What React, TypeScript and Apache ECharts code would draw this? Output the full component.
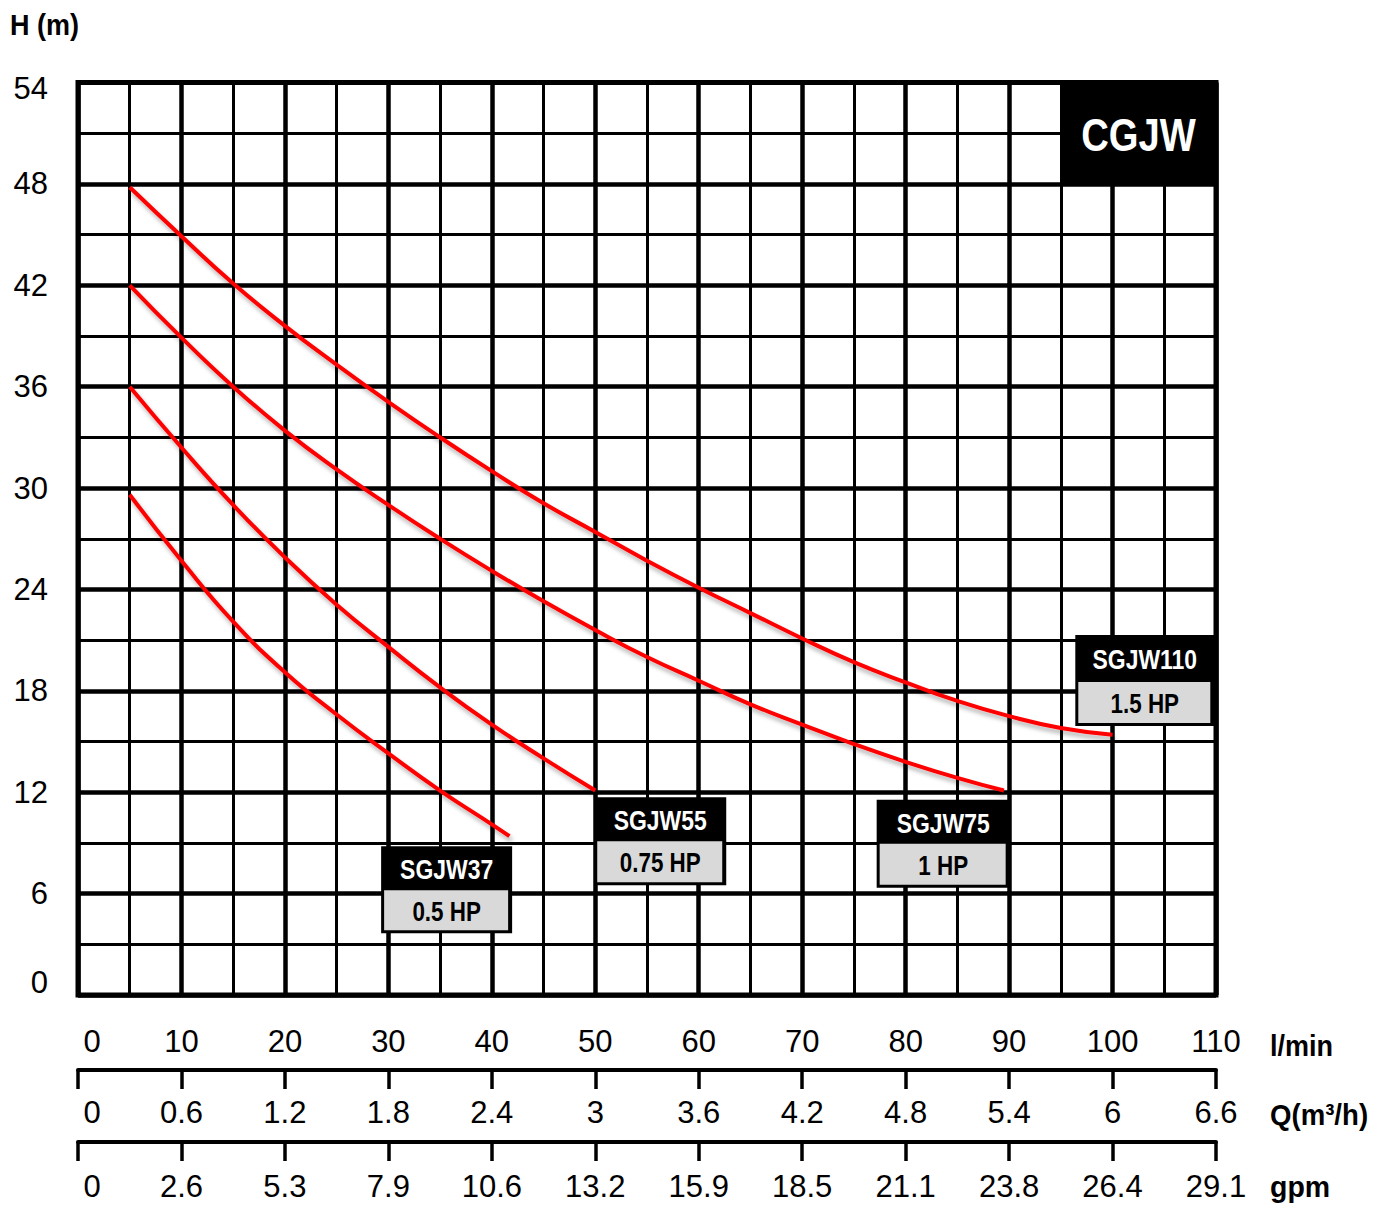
import React, { useEffect, useRef } from "react";
import * as echarts from "echarts";

// ---------- data ----------
const lpmTickLabels = ["0", "10", "20", "30", "40", "50", "60", "70", "80", "90", "100", "110"];
const m3hTickLabels = ["0", "0.6", "1.2", "1.8", "2.4", "3", "3.6", "4.2", "4.8", "5.4", "6", "6.6"];
const gpmTickLabels = ["0", "2.6", "5.3", "7.9", "10.6", "13.2", "15.9", "18.5", "21.1", "23.8", "26.4", "29.1"];

const modelNames = ["SGJW37", "SGJW55", "SGJW75", "SGJW110"];
const modelPowers = ["0.5 HP", "0.75 HP", "1 HP", "1.5 HP"];

const flowSGJW37 = [5, 10, 15, 20, 25, 30, 35, 40, 41.7];
const headSGJW37 = [29.6, 25.7, 22.1, 19.1, 16.6, 14.3, 12.1, 10.1, 9.4];

const flowSGJW55 = [5, 10, 15, 20, 25, 30, 35, 40, 45, 50];
const headSGJW55 = [36.0, 32.4, 29.0, 25.9, 23.1, 20.6, 18.2, 16.0, 14.0, 12.1];

const flowSGJW75 = [5, 10, 15, 20, 25, 30, 35, 40, 45, 50, 55, 60, 65, 70, 75, 80, 85, 89.5];
const headSGJW75 = [42.0, 38.9, 36.0, 33.4, 31.1, 29.0, 27.0, 25.1, 23.3, 21.6, 20.0, 18.6, 17.2, 16.0, 14.85, 13.8, 12.85, 12.1];

const flowSGJW110 = [5, 10, 15, 20, 25, 30, 35, 40, 45, 50, 55, 60, 65, 70, 75, 80, 85, 90, 95, 100];
const headSGJW110 = [47.8, 44.9, 42.1, 39.6, 37.3, 35.1, 33.0, 31.0, 29.1, 27.4, 25.7, 24.1, 22.6, 21.1, 19.7, 18.5, 17.4, 16.5, 15.8, 15.4];

const seriesTitle = "CGJW";

// ---------- layout (annotation anchors in data units, sizes in px) ----------
const titleBoxFrom = [95, 54];
const titleBoxTo = [110, 48];
const boxAnchorFlow = [29.3, 49.9, 77.2, 96.4];
const boxAnchorHead = [8.8, 11.7, 11.55, 21.3];
const boxWidth = [131, 132, 133, 139];
const boxHeight = [87, 88, 88, 91];
const boxTopH = [44, 44, 44, 47];

const FONT = "'Liberation Sans', Arial, sans-serif";

const pairs = (xs: number[], ys: number[]) => xs.map((x, i) => [x, ys[i]]);

const bottomAxis = (labels: string[], offset: number, showLine: boolean, margin: number) => ({
  type: "value",
  position: "bottom",
  min: 0,
  max: 110,
  interval: 10,
  offset,
  axisLine: { show: showLine, onZero: false, lineStyle: { color: "#000", width: 4 } },
  axisTick: { show: showLine, inside: false, length: 19, lineStyle: { color: "#000", width: 3.5 } },
  splitLine: { show: false },
  axisLabel: {
    show: true,
    margin,
    showMinLabel: true,
    showMaxLabel: true,
    color: "#000",
    fontSize: 31,
    fontFamily: FONT,
    formatter: (v: number) => {
      const s = labels[Math.round(v / 10)];
      return v === 0 ? "{z|" + s + "}" : s;
    },
    rich: { z: { fontSize: 31, fontFamily: FONT, color: "#000", padding: [0, 0, 0, 28] } },
  },
});

export default function App() {
  const ref = useRef<HTMLDivElement>(null);
  useEffect(() => {
    if (!ref.current) return;
    const chart = echarts.init(ref.current, undefined, { renderer: "svg" });
    const lineStyle = {
      color: "#ff0000",
      width: 4,
      shadowColor: "rgba(0,0,0,0.3)",
      shadowBlur: 4,
      shadowOffsetX: 2,
      shadowOffsetY: 4,
    };
    const mk = (name: string, data: number[][], extra: any = {}) => ({
      name,
      type: "line",
      xAxisIndex: 0,
      yAxisIndex: 0,
      data,
      smooth: 0.5,
      showSymbol: false,
      symbol: "none",
      lineStyle,
      z: 3,
      ...extra,
    });
    const option: any = {
      animation: false,
      backgroundColor: "#fff",
      grid: {
        left: 78,
        right: 168,
        top: 82.5,
        bottom: 212,
        show: true,
        borderColor: "#000",
        borderWidth: 5,
        backgroundColor: "transparent",
        containLabel: false,
        outerBoundsMode: "none",
      },
      xAxis: [
        {
          type: "value",
          position: "bottom",
          min: 0,
          max: 110,
          interval: 10,
          axisLine: { show: false },
          axisTick: { show: false },
          minorTick: { show: false, splitNumber: 2 },
          splitLine: { show: true, lineStyle: { color: "#000", width: 4.5 } },
          minorSplitLine: { show: true, lineStyle: { color: "#000", width: 3 } },
          axisLabel: {
            margin: 31,
            showMinLabel: true,
            showMaxLabel: true,
            color: "#000",
            fontSize: 31,
            fontFamily: FONT,
            formatter: (v: number) => {
              const s = lpmTickLabels[Math.round(v / 10)];
              return v === 0 ? "{z|" + s + "}" : s;
            },
            rich: { z: { fontSize: 31, fontFamily: FONT, color: "#000", padding: [0, 0, 0, 28] } },
          },
        },
        bottomAxis(m3hTickLabels, 75, true, 27),
        bottomAxis(gpmTickLabels, 147, true, 29),
      ],
      yAxis: [
        {
          type: "value",
          min: 0,
          max: 54,
          interval: 6,
          axisLine: { show: false },
          axisTick: { show: false },
          minorTick: { show: false, splitNumber: 2 },
          splitLine: { show: true, lineStyle: { color: "#000", width: 4.5 } },
          minorSplitLine: { show: true, lineStyle: { color: "#000", width: 3 } },
          axisLabel: {
            margin: 30,
            showMinLabel: true,
            showMaxLabel: true,
            color: "#000",
            fontSize: 31,
            fontFamily: FONT,
            formatter: (v: number) => (v === 0 ? "{lo|0}" : v === 54 ? "{hi|54}" : String(v)),
            rich: {
              lo: { fontSize: 31, fontFamily: FONT, color: "#000", padding: [0, 0, 26, 0] },
              hi: { fontSize: 31, fontFamily: FONT, color: "#000", padding: [11, 0, 0, 0] },
            },
          },
        },
      ],
      series: [
        mk(modelNames[0], pairs(flowSGJW37, headSGJW37)),
        mk(modelNames[1], pairs(flowSGJW55, headSGJW55)),
        mk(modelNames[2], pairs(flowSGJW75, headSGJW75)),
        mk(modelNames[3], pairs(flowSGJW110, headSGJW110), {
          markArea: {
            silent: true,
            itemStyle: { color: "#000", opacity: 1, borderWidth: 0 },
            label: { show: false },
            data: [[{ coord: titleBoxFrom }, { coord: titleBoxTo }]],
          },
        }),
      ],
    };
    chart.setOption(option);

    const txt = (
      text: string,
      x: number,
      y: number,
      size: number,
      color: string,
      scaleX: number,
      align = "center",
      z = 102
    ) => ({
      type: "text",
      z,
      x,
      y,
      scaleX,
      scaleY: 1,
      style: {
        text,
        x: 0,
        y: 0,
        fill: color,
        fontSize: size,
        fontWeight: "bold",
        fontFamily: FONT,
        align,
        verticalAlign: "middle",
        textAlign: align,
        textVerticalAlign: "middle",
      },
    });

    const graphics: any[] = [];
    modelNames.forEach((name, i) => {
      const p = chart.convertToPixel({ gridIndex: 0 } as any, [boxAnchorFlow[i], boxAnchorHead[i]]) as number[];
      const w = boxWidth[i];
      const h = boxHeight[i];
      const th = boxTopH[i];
      graphics.push({ type: "rect", z: 100, shape: { x: p[0], y: p[1], width: w, height: h }, style: { fill: "#000" } });
      graphics.push({
        type: "rect",
        z: 101,
        shape: { x: p[0] + 3, y: p[1] + th, width: w - 7, height: h - th - 3 },
        style: { fill: "#d9d9d9" },
      });
      graphics.push(txt(name, p[0] + w / 2, p[1] + th / 2 + 1, 27, "#fff", 0.85));
      graphics.push(txt(modelPowers[i], p[0] + w / 2, p[1] + th + (h - th - 3) / 2 + 1, 27, "#000", 0.83));
    });
    const c1 = chart.convertToPixel({ gridIndex: 0 } as any, titleBoxFrom) as number[];
    const c2 = chart.convertToPixel({ gridIndex: 0 } as any, titleBoxTo) as number[];
    graphics.push(txt(seriesTitle, (c1[0] + c2[0]) / 2, (c1[1] + c2[1]) / 2 + 2, 46, "#fff", 0.83));
    graphics.push(txt("H (m)", 10, 24, 30, "#000", 0.9, "left"));
    graphics.push(txt("l/min", 1270, 1045, 30, "#000", 0.9, "left"));
    graphics.push(txt("Q(m³/h)", 1270, 1115, 30, "#000", 0.92, "left"));
    graphics.push(txt("gpm", 1270, 1187, 30, "#000", 0.95, "left"));
    chart.setOption({ graphic: graphics });

    return () => chart.dispose();
  }, []);
  return <div ref={ref} style={{ position: "absolute", left: 0, top: 0, width: 1384, height: 1207 }} />;
}
